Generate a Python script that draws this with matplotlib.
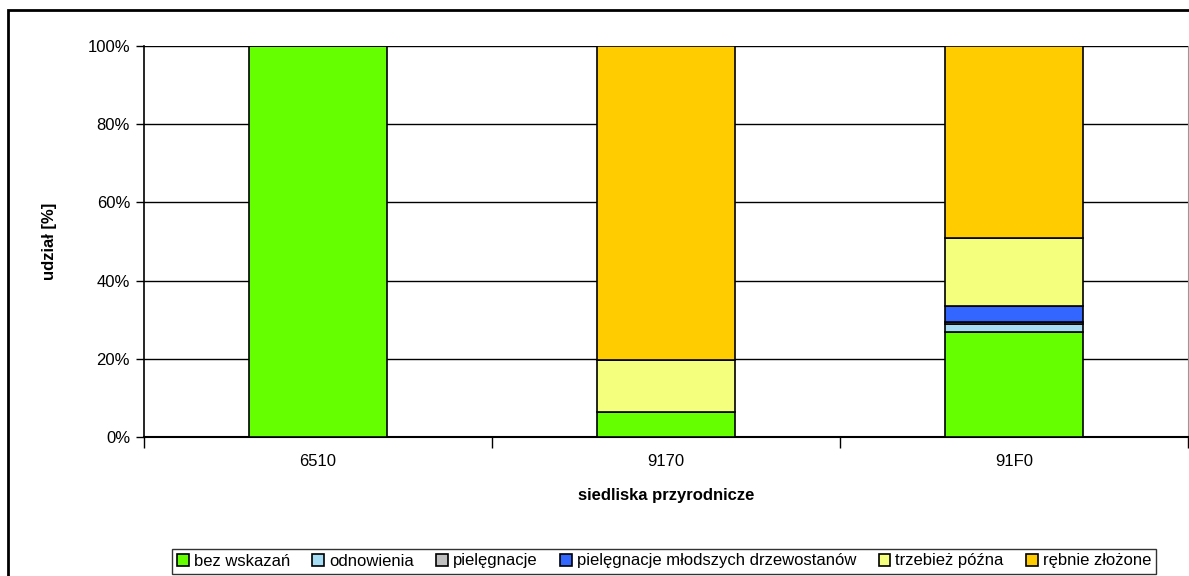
import numpy as np
import matplotlib
matplotlib.use("Agg")
import matplotlib.pyplot as plt
from matplotlib.patches import Rectangle

plt.rcParams["font.family"] = ["Liberation Sans", "DejaVu Sans"]

categories = ["6510", "9170", "91F0"]
series_names = ["bez wskazań", "odnowienia", "pielęgnacje",
                "pielęgnacje młodszych drzewostanów", "trzebież późna", "rębnie złożone"]
# shares in %, one list per series (order of categories)
bez_wskazan = [100.0, 6.3, 26.9]
odnowienia = [0.0, 0.0, 1.9]
pielegnacje = [0.0, 0.0, 0.7]
pielegnacje_mlodszych = [0.0, 0.0, 4.1]
trzebiez_pozna = [0.0, 13.4, 17.4]
rebnie_zlozone = [0.0, 80.3, 49.0]
colors = ["#66FF00", "#A6DDF5", "#C0C0C0", "#3366FF", "#F3FF7D", "#FFCC00"]

series = [bez_wskazan, odnowienia, pielegnacje, pielegnacje_mlodszych,
          trzebiez_pozna, rebnie_zlozone]

fig = plt.figure(figsize=(11.89, 5.76), dpi=100)
ax = fig.add_axes([144 / 1189, 1 - 437 / 576, 1044 / 1189, 391 / 576])

# outer chart border
fig.patches.append(Rectangle((8 / 1189, -0.01), 1.0, 1 - 10 / 576 + 0.01,
                             transform=fig.transFigure, fill=False,
                             edgecolor="black", lw=2, zorder=0))

x = np.arange(len(categories))
bottom = np.zeros(len(categories))
handles = []
for name, vals, col in zip(series_names, series, colors):
    vals = np.array(vals)
    h = ax.bar(x, vals, width=0.397, bottom=bottom, color=col,
               edgecolor="black", linewidth=1.2, label=name, zorder=3)
    handles.append(h)
    bottom += vals

ax.set_xlim(-0.5, len(categories) - 0.5)
ax.set_ylim(0, 100)
ax.set_yticks(np.arange(0, 101, 20))
ax.set_yticklabels([f"{v}%" for v in range(0, 101, 20)], fontsize=12)
ax.yaxis.grid(True, color="black", lw=1)
ax.set_axisbelow(True)

ax.set_xticks(x)
ax.set_xticklabels(categories, fontsize=12)
ax.tick_params(axis="x", length=0, pad=12)
ax.set_xticks(np.arange(-0.5, len(categories), 1), minor=True)
ax.tick_params(axis="x", which="minor", length=8, width=1, direction="out")
ax.tick_params(axis="y", length=6, width=1, direction="out", pad=4)

ax.spines["top"].set_visible(False)
ax.spines["right"].set_color("#999999")
ax.spines["left"].set_linewidth(1.2)
ax.spines["bottom"].set_linewidth(1.5)

ax.set_ylabel("udział [%]", fontsize=12, fontweight="bold", labelpad=22)
ax.set_xlabel("siedliska przyrodnicze", fontsize=12, fontweight="bold", labelpad=14)

leg = fig.legend(handles=handles, labels=series_names, loc="center",
                 bbox_to_anchor=(664 / 1189, 1 - 561 / 576), ncol=6,
                 fontsize=12, frameon=True, fancybox=False,
                 handlelength=0.7, handleheight=0.7, handletextpad=0.3,
                 columnspacing=1.35, borderpad=0.3, borderaxespad=0)
leg.get_frame().set_edgecolor("black")
leg.get_frame().set_linewidth(1)

fig.savefig("out.png", dpi=100)
